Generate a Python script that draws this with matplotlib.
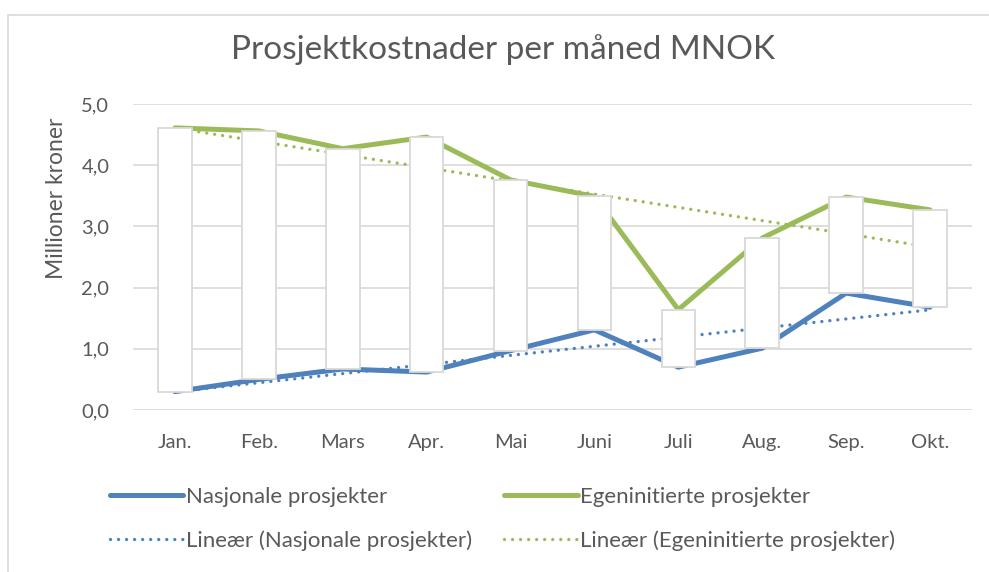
import matplotlib
matplotlib.use("Agg")
import matplotlib.pyplot as plt
import numpy as np
from matplotlib.patches import Rectangle

months = ["Jan.", "Feb.", "Mars", "Apr.", "Mai", "Juni", "Juli", "Aug.", "Sep.", "Okt."]
nasjonale = [0.30, 0.50, 0.67, 0.62, 0.97, 1.31, 0.70, 1.01, 1.91, 1.68]
egeninitierte = [4.61, 4.56, 4.27, 4.46, 3.76, 3.49, 1.64, 2.81, 3.48, 3.27]
yticks = [0, 1, 2, 3, 4, 5]
ytick_labels = ["0,0", "1,0", "2,0", "3,0", "4,0", "5,0"]

BLUE = "#4F81BD"
GREEN = "#9BBB59"
GRID = "#D9D9D9"
TXT = "#595959"

plt.rcParams['font.family'] = ['Lato', 'DejaVu Sans']

fig = plt.figure(figsize=(9.89, 5.72), dpi=100)
ax = fig.add_axes([133/989, 1-410/572, (972-133)/989, (410-104)/572])

x = np.arange(len(months))
h1, = ax.plot(x, nasjonale, color=BLUE, lw=3.6, solid_capstyle='round', zorder=3, label="Nasjonale prosjekter")
h2, = ax.plot(x, egeninitierte, color=GREEN, lw=3.6, solid_capstyle='round', zorder=3, label="Egeninitierte prosjekter")

pn = np.polyfit(x, nasjonale, 1)
pe = np.polyfit(x, egeninitierte, 1)
dot = (0, (0.01, 2.4))
h3, = ax.plot(x, np.polyval(pn, x), color=BLUE, lw=2.4, ls=dot, dash_capstyle='round', zorder=3,
              label="Lineær (Nasjonale prosjekter)")
h4, = ax.plot(x, np.polyval(pe, x), color=GREEN, lw=2.4, ls=dot, dash_capstyle='round', zorder=3,
              label="Lineær (Egeninitierte prosjekter)")

w = 0.4
for xi, lo, hi in zip(x, nasjonale, egeninitierte):
    ax.add_patch(Rectangle((xi - w/2, min(lo, hi)), w, abs(hi - lo), facecolor="white",
                           edgecolor=GRID, lw=1.3, zorder=4))

ax.set_xlim(-0.5, len(months) - 0.5)
ax.set_ylim(0, 5)
ax.set_yticks(yticks)
ax.set_yticklabels(ytick_labels)
ax.set_xticks(x)
ax.set_xticklabels(months)
ax.grid(axis='y', color=GRID, lw=1.2, zorder=0)
ax.set_axisbelow(True)
for s in ax.spines.values():
    s.set_visible(False)
ax.tick_params(axis='both', length=0, labelsize=14.5, colors=TXT)
ax.tick_params(axis='x', pad=17)
ax.tick_params(axis='y', pad=17)

fig.text(57/989, 1-198/572, "Millioner kroner", rotation=90, ha='center', va='center',
         fontsize=16.5, color=TXT)

fig.text(503/989, 1-50/572, "Prosjektkostnader per måned MNOK", ha='center', va='center',
         fontsize=24, color=TXT)

# chart area border
fig.add_artist(Rectangle((8/989, -0.1), 1.2, 1-15/572+0.1, transform=fig.transFigure,
                         facecolor='none', edgecolor=GRID, lw=1.2))

leg = fig.legend(handles=[h1, h3, h2, h4], loc='upper left', bbox_to_anchor=(90/989, 1-467/572), ncol=2,
                 frameon=False, fontsize=16, handlelength=3.3, handletextpad=0.12, columnspacing=1.45,
                 labelspacing=1.05, labelcolor=TXT)

fig.savefig("out.png", dpi=100)
